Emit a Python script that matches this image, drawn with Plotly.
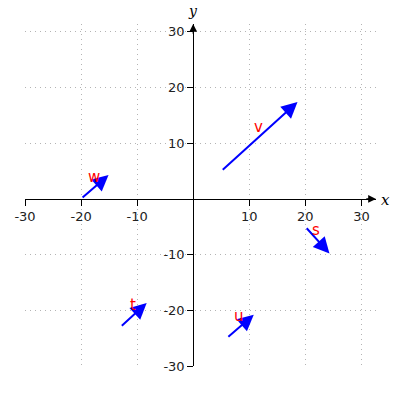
import plotly.graph_objects as go

# Vector data (tail -> head)
names = ["w", "v", "s", "t", "u"]
x0 = [-20, 5, 20, -13, 6]
y0 = [0, 5, -5, -23, -25]
x1 = [-15.1, 18.6, 24.3, -8.3, 10.8]
y1 = [4.3, 17.4, -9.8, -18.7, -20.8]

tick_vals = [-30, -20, -10, 10, 20, 30]
tick_text = ["-30", "-20", "-10", "10", "20", "30"]

x_range = [-30, 32.6]
y_range = [-30, 31.4]

# fractional positions of the zero lines (for free-anchored axes)
pos_y0 = (0 - y_range[0]) / (y_range[1] - y_range[0])
pos_x0 = (0 - x_range[0]) / (x_range[1] - x_range[0])

fig = go.Figure()
fig.add_trace(go.Scatter(x=[x_range[0]], y=[y_range[0]], mode="markers",
                         marker=dict(opacity=0), hoverinfo="skip", showlegend=False))

annotations = []
for n, a, b, c, d in zip(names, x0, y0, x1, y1):
    annotations.append(dict(
        x=c, y=d, ax=a, ay=b, xref="x", yref="y", axref="x", ayref="y",
        text="", showarrow=True, arrowhead=2, arrowsize=1.6, arrowwidth=2,
        arrowcolor="blue", standoff=0, startstandoff=0))
    annotations.append(dict(
        x=(a + c) / 2, y=(b + d) / 2, xref="x", yref="y", text=n,
        showarrow=False, yshift=10, xshift=-1,
        font=dict(color="red", size=15, family="DejaVu Sans")))

# axis arrowheads
annotations.append(dict(x=x_range[1], y=0, ax=x_range[1] - 2, ay=0, xref="x", yref="y",
                        axref="x", ayref="y", text="", showarrow=True, arrowhead=2,
                        arrowsize=1.3, arrowwidth=1.2, arrowcolor="black", standoff=0))
annotations.append(dict(x=0, y=y_range[1], ax=0, ay=y_range[1] - 2, xref="x", yref="y",
                        axref="x", ayref="y", text="", showarrow=True, arrowhead=2,
                        arrowsize=1.3, arrowwidth=1.2, arrowcolor="black", standoff=0))
# axis labels
annotations.append(dict(x=1, y=pos_y0, xref="paper", yref="paper", text="x",
                        showarrow=False, xanchor="left", xshift=4, yshift=-1,
                        borderpad=0,
                        font=dict(family="DejaVu Serif", size=15, color="black",
                                  style="italic")))
annotations.append(dict(x=pos_x0, y=1, xref="paper", yref="paper", text="y",
                        showarrow=False, yanchor="bottom", yshift=4, borderpad=0,
                        font=dict(family="DejaVu Serif", size=14, color="black",
                                  style="italic")))

axis_common = dict(
    showline=True, linecolor="black", linewidth=1,
    ticks="outside", ticklen=6, tickcolor="black", tickwidth=1,
    tickvals=tick_vals, ticktext=tick_text,
    showgrid=True, gridcolor="#b4b4b4", griddash="1px,4px", gridwidth=1,
    zeroline=False, tickfont=dict(family="DejaVu Sans", size=13, color="#222"),
    anchor="free", fixedrange=True, automargin=False,
)

fig.update_layout(
    width=400, height=400,
    margin=dict(l=25, r=24, t=24, b=34, autoexpand=False),
    plot_bgcolor="white", paper_bgcolor="white",
    xaxis=dict(range=x_range, position=pos_y0, **axis_common),
    yaxis=dict(range=y_range, position=pos_x0, **axis_common),
    annotations=annotations,
    showlegend=False,
)

fig.write_html("out.html", config={"displayModeBar": False},
               post_script="document.body.style.margin='0';document.body.style.overflow='hidden';")
